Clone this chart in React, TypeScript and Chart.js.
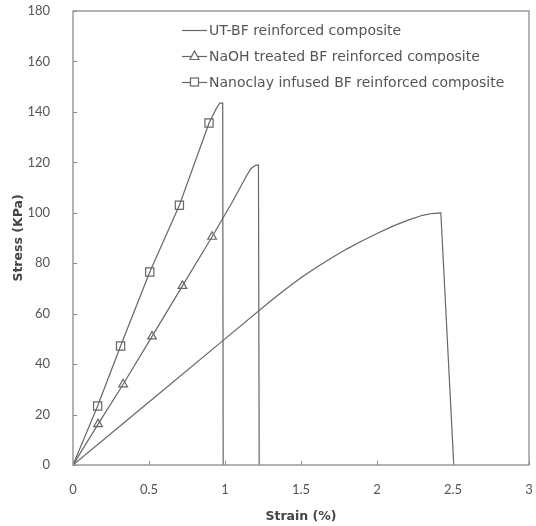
import React, { useEffect, useRef } from "react";
import { Chart, registerables } from "chart.js";

Chart.register(...registerables);

const seriesNames = [
  "UT-BF reinforced composite",
  "NaOH treated BF reinforced composite",
  "Nanoclay infused BF reinforced composite",
];

const utStrain = [0, 0.5, 1.0, 1.3, 1.4, 1.5, 1.6, 1.7, 1.8, 1.9, 2.0, 2.1, 2.2, 2.3, 2.36, 2.42, 2.505];
const utStress = [0, 25, 50, 65, 69.8, 74.2, 78.3, 82.1, 85.6, 88.8, 91.8, 94.6, 97.0, 99.0, 99.7, 100, 0];

const naohStrain = [0, 0.165, 0.33, 0.52, 0.72, 0.915, 1.05, 1.1, 1.14, 1.17, 1.2, 1.22, 1.225];
const naohStress = [0, 16.2, 32, 51, 71, 90.5, 104.5, 110, 114.5, 117.5, 118.8, 119, 0];
const naohMarkStrain = [0.165, 0.33, 0.52, 0.72, 0.915];
const naohMarkStress = [16.2, 32, 51, 71, 90.5];

const nanoStrain = [0, 0.162, 0.313, 0.505, 0.7, 0.895, 0.94, 0.965, 0.985, 0.988];
const nanoStress = [0, 23.4, 47.2, 76.5, 103, 135.6, 141, 143.5, 143.5, 0];
const nanoMarkStrain = [0.162, 0.313, 0.505, 0.7, 0.895];
const nanoMarkStress = [23.4, 47.2, 76.5, 103, 135.6];

const xTicks = [0, 0.5, 1, 1.5, 2, 2.5, 3];
const yTicks = [0, 20, 40, 60, 80, 100, 120, 140, 160, 180];

const pts = (xs: number[], ys: number[]) => xs.map((x, i) => ({ x, y: ys[i] }));

const LINE = "#666666";
const TEXT = "#555555";
const TICK_FONT = "Lato, 'Open Sans', sans-serif";
const WIDE_FONT = "'DejaVu Sans', Verdana, sans-serif";

export default function App() {
  const ref = useRef<HTMLCanvasElement | null>(null);

  useEffect(() => {
    document.body.style.margin = "0";
    const canvas = ref.current;
    if (!canvas) return;

    const framePlugin = {
      id: "frame",
      afterDatasetsDraw(chart: any) {
        const { ctx, chartArea } = chart;
        const { left, right, top, bottom } = chartArea;
        ctx.save();
        ctx.strokeStyle = "#8c8c8c";
        ctx.lineWidth = 1.3;
        ctx.strokeRect(left, top, right - left, bottom - top);
        ctx.lineWidth = 1;
        const xs = chart.scales.x;
        const ys = chart.scales.y;
        ctx.beginPath();
        xTicks.forEach((v) => {
          const px = Math.round(xs.getPixelForValue(v)) + 0.5;
          ctx.moveTo(px, bottom);
          ctx.lineTo(px, bottom - 4);
        });
        yTicks.forEach((v) => {
          const py = Math.round(ys.getPixelForValue(v)) + 0.5;
          ctx.moveTo(left, py);
          ctx.lineTo(left + 4, py);
        });
        ctx.stroke();
        ctx.restore();
      },
      afterDraw(chart: any) {
        const { ctx } = chart;
        ctx.save();
        const x0 = 182;
        const x1 = 207;
        const ys0 = [30, 56, 82];
        ctx.font = `14px ${WIDE_FONT}`;
        ctx.textBaseline = "middle";
        ctx.textAlign = "left";
        seriesNames.forEach((name, i) => {
          const y = ys0[i];
          ctx.strokeStyle = LINE;
          ctx.lineWidth = 1.2;
          ctx.beginPath();
          ctx.moveTo(x0, y + 0.5);
          ctx.lineTo(x1, y + 0.5);
          ctx.stroke();
          const cx = (x0 + x1) / 2;
          if (i === 1) {
            ctx.fillStyle = "#fff";
            ctx.beginPath();
            ctx.moveTo(cx, y - 5);
            ctx.lineTo(cx + 4.5, y + 3.5);
            ctx.lineTo(cx - 4.5, y + 3.5);
            ctx.closePath();
            ctx.fill();
            ctx.stroke();
          } else if (i === 2) {
            ctx.fillStyle = "#fff";
            ctx.fillRect(cx - 4, y - 4, 8, 8);
            ctx.strokeRect(cx - 4, y - 4, 8, 8);
          }
          ctx.fillStyle = TEXT;
          ctx.fillText(name, x1 + 2, y + 1);
        });
        ctx.restore();
      },
    };

    const lineDs = (label: string, data: any) => ({
      label,
      data,
      showLine: true,
      borderColor: LINE,
      borderWidth: 1.2,
      pointRadius: 0,
    });

    const chart = new Chart(canvas, {
      type: "scatter",
      data: {
        datasets: [
          lineDs(seriesNames[0], pts(utStrain, utStress)),
          lineDs(seriesNames[1], pts(naohStrain, naohStress)),
          lineDs(seriesNames[2], pts(nanoStrain, nanoStress)),
          {
            label: seriesNames[1] + " markers",
            data: pts(naohMarkStrain, naohMarkStress),
            showLine: false,
            pointStyle: "triangle",
            pointRadius: 5,
            pointBorderWidth: 1.2,
            pointBorderColor: LINE,
            pointBackgroundColor: "#ffffff",
          },
          {
            label: seriesNames[2] + " markers",
            data: pts(nanoMarkStrain, nanoMarkStress),
            showLine: false,
            pointStyle: "rect",
            pointRadius: 5.8,
            pointBorderWidth: 1.2,
            pointBorderColor: LINE,
            pointBackgroundColor: "#ffffff",
          },
        ],
      },
      options: {
        animation: false,
        responsive: true,
        maintainAspectRatio: false,
        layout: { padding: { top: 11, right: 6, left: 0, bottom: 0 } },
        plugins: {
          legend: { display: false },
          tooltip: { enabled: false },
        },
        scales: {
          x: {
            type: "linear",
            min: 0,
            max: 3,
            afterFit: (s: any) => {
              s.height = 61;
              s.paddingLeft = 0;
              s.paddingRight = 0;
              s.paddingTop = 0;
              s.paddingBottom = 0;
            },
            afterBuildTicks: (s: any) => {
              s.ticks = xTicks.map((v) => ({ value: v }));
            },
            grid: { display: false, drawTicks: false },
            border: { display: false },
            ticks: {
              padding: 17,
              color: TEXT,
              font: { family: TICK_FONT, size: 13 },
              maxRotation: 0,
              callback: (v: any) => String(v),
            },
            title: {
              display: true,
              text: "Strain (%)",
              color: "#444",
              font: { family: WIDE_FONT, size: 12.5, weight: "bold" },
              padding: { top: 0, bottom: 2 },
            },
          },
          y: {
            type: "linear",
            min: 0,
            max: 180,
            afterFit: (s: any) => {
              s.width = 73;
              s.paddingLeft = 0;
              s.paddingRight = 0;
              s.paddingTop = 0;
              s.paddingBottom = 0;
            },
            afterBuildTicks: (s: any) => {
              s.ticks = yTicks.map((v) => ({ value: v }));
            },
            grid: { display: false, drawTicks: false },
            border: { display: false },
            ticks: {
              padding: 23,
              color: TEXT,
              font: { family: TICK_FONT, size: 13 },
              callback: (v: any) => String(v),
            },
            title: {
              display: true,
              text: "Stress (KPa)",
              color: "#444",
              font: { family: WIDE_FONT, size: 12.5, weight: "bold" },
              padding: { top: 11, bottom: 0 },
            },
          },
        },
      },
      plugins: [framePlugin],
    });

    return () => chart.destroy();
  }, []);

  return (
    <div style={{ position: "relative", width: 536, height: 526 }}>
      <canvas ref={ref} />
    </div>
  );
}
